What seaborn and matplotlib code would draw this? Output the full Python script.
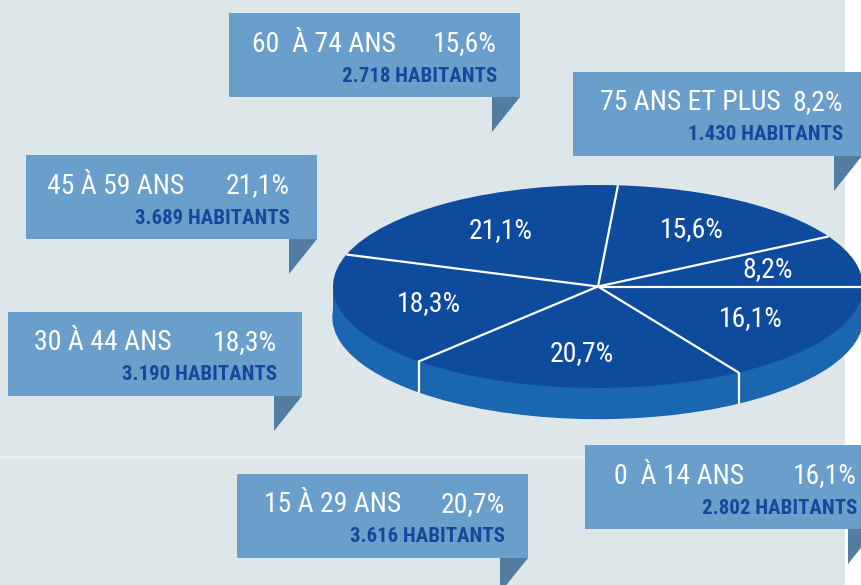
import matplotlib
matplotlib.use("Agg")
import matplotlib.pyplot as plt
from matplotlib import font_manager
import seaborn as sns
import numpy as np
from matplotlib.patches import Rectangle, Polygon

# =============================================================================
# DATA
# =============================================================================
groups = ["0  À 14 ANS", "15 À 29 ANS", "30 À 44 ANS", "45 À 59 ANS", "60  À 74 ANS", "75 ANS ET PLUS"]
shares = [16.1, 20.7, 18.3, 21.1, 15.6, 8.2]
habitants = ["2.802", "3.616", "3.190", "3.689", "2.718", "1.430"]

# pie is drawn counter-clockwise from 0° starting with the oldest group
pie_order = list(range(len(groups)))[::-1]

# =============================================================================
# STYLE
# =============================================================================
sns.set_theme(style="white")

# pick a condensed face if one is installed
fonts = [(f.name, f.stretch) for f in font_manager.fontManager.ttflist]
names = {n for n, _ in fonts}
STRETCH = "normal"
if "Liberation Sans Narrow" in names:
    FAMILY = "Liberation Sans Narrow"
elif "Roboto Condensed" in names:
    FAMILY = "Roboto Condensed"
elif ("DejaVu Sans", "condensed") in fonts or ("DejaVu Sans", "semi-condensed") in fonts:
    FAMILY = "DejaVu Sans"
    STRETCH = "condensed"
else:
    FAMILY = "DejaVu Sans"
plt.rcParams['font.family'] = [FAMILY, 'DejaVu Sans']
plt.rcParams['font.stretch'] = STRETCH

BG = "#dde6e8"
TOP = "#0f4b9c"
SIDE = "#1a66b1"
BOX = "#6a9fcc"
FOLD = "#527da3"
DARK_TXT = "#17479a"
LABEL_SIZE = 20
SUB_SIZE = 15


def fmt_pct(v):
    return f"{v:.1f}".replace(".", ",") + "%"


W, H = 862, 585
fig = plt.figure(figsize=(W / 100, H / 100), dpi=100, facecolor=BG)

# background axes in pixel coordinates
ax_bg = fig.add_axes([0, 0, 1, 1])
ax_bg.set_xlim(0, W)
ax_bg.set_ylim(H, 0)
ax_bg.axis("off")
ax_bg.add_patch(Rectangle((845, 0), W - 845, H, color="white", zorder=0))
ax_bg.plot([0, 845], [457, 457], color="#e8efef", lw=2, zorder=0)

# =============================================================================
# PIE (elliptic top face + side band)
# =============================================================================
depth = 0.30
cx, rx = 598, 265
cy, ry = 286.5, 101.5
pad = 0.02
ax_pie = fig.add_axes([(cx - rx * (1 + pad)) / W,
                       (H - (cy + ry * (1 + depth + pad))) / H,
                       2 * rx * (1 + pad) / W,
                       ry * (2 + depth + 2 * pad) / H])
ax_pie.set_facecolor("none")

vals = [shares[i] for i in pie_order]

# side: lower copy + band
ax_pie.pie(vals, startangle=0, counterclock=True, center=(0, -depth),
           colors=[SIDE] * len(vals), wedgeprops=dict(linewidth=1, edgecolor=SIDE))
ax_pie.add_patch(Rectangle((-1, -depth), 2, depth, color=SIDE, lw=0))

wedges, _, autotexts = ax_pie.pie(
    vals, startangle=0, counterclock=True, center=(0, 0),
    colors=[TOP] * len(vals), wedgeprops=dict(linewidth=0),
    autopct=fmt_pct, pctdistance=0.66,
    textprops=dict(color="white", fontsize=LABEL_SIZE))

# white separators on the top face and on the visible side
for w in wedges:
    a = np.deg2rad(w.theta1)
    x, y = np.cos(a), np.sin(a)
    ax_pie.plot([0, x], [0, y], color="white", lw=1.6, solid_capstyle="butt")
    if y < -0.01:
        ax_pie.plot([x, x], [y, y - depth], color="white", lw=1.6)

ax_pie.set_aspect("auto")
ax_pie.set_xlim(-1 - pad, 1 + pad)
ax_pie.set_ylim(-1 - depth - pad, 1 + pad)
ax_pie.axis("off")

# =============================================================================
# CALLOUT BOXES  (x0, y0, width, label x, text right x)
# =============================================================================
box_layout = {
    "0  À 14 ANS": (585, 445, 291, 614, 857),
    "15 À 29 ANS": (237, 474, 291, 264, 505),
    "30 À 44 ANS": (8, 312, 294, 34, 277),
    "45 À 59 ANS": (26, 155, 291, 47, 290),
    "60  À 74 ANS": (229, 13, 291, 252, 497),
    "75 ANS ET PLUS": (573, 72, 289, 600, 843),
}
box_h = 84

for g, s, h in zip(groups, shares, habitants):
    x0, y0, bw, lx, rxt = box_layout[g]
    right = x0 + bw
    bottom = y0 + box_h
    if g == "0  À 14 ANS":
        fx = 848
    else:
        fx = right - 28
    ax_bg.add_patch(Polygon([(fx, bottom), (fx + 28, bottom), (fx, bottom + 35)],
                            closed=True, color=FOLD, lw=0, zorder=2))
    ax_bg.add_patch(Rectangle((x0, y0), bw, box_h, color=BOX, lw=0, zorder=3))
    ax_bg.text(lx, y0 + 31, g, color="white", fontsize=LABEL_SIZE, ha="left", va="center", zorder=4)
    ax_bg.text(rxt, y0 + 31, fmt_pct(s), color="white", fontsize=LABEL_SIZE, ha="right", va="center", zorder=4)
    ax_bg.text(rxt, y0 + 63, f"{h} HABITANTS", color=DARK_TXT, fontsize=SUB_SIZE,
               fontweight="bold", ha="right", va="center", zorder=4)

plt.savefig("out.png", dpi=100, facecolor=BG)
